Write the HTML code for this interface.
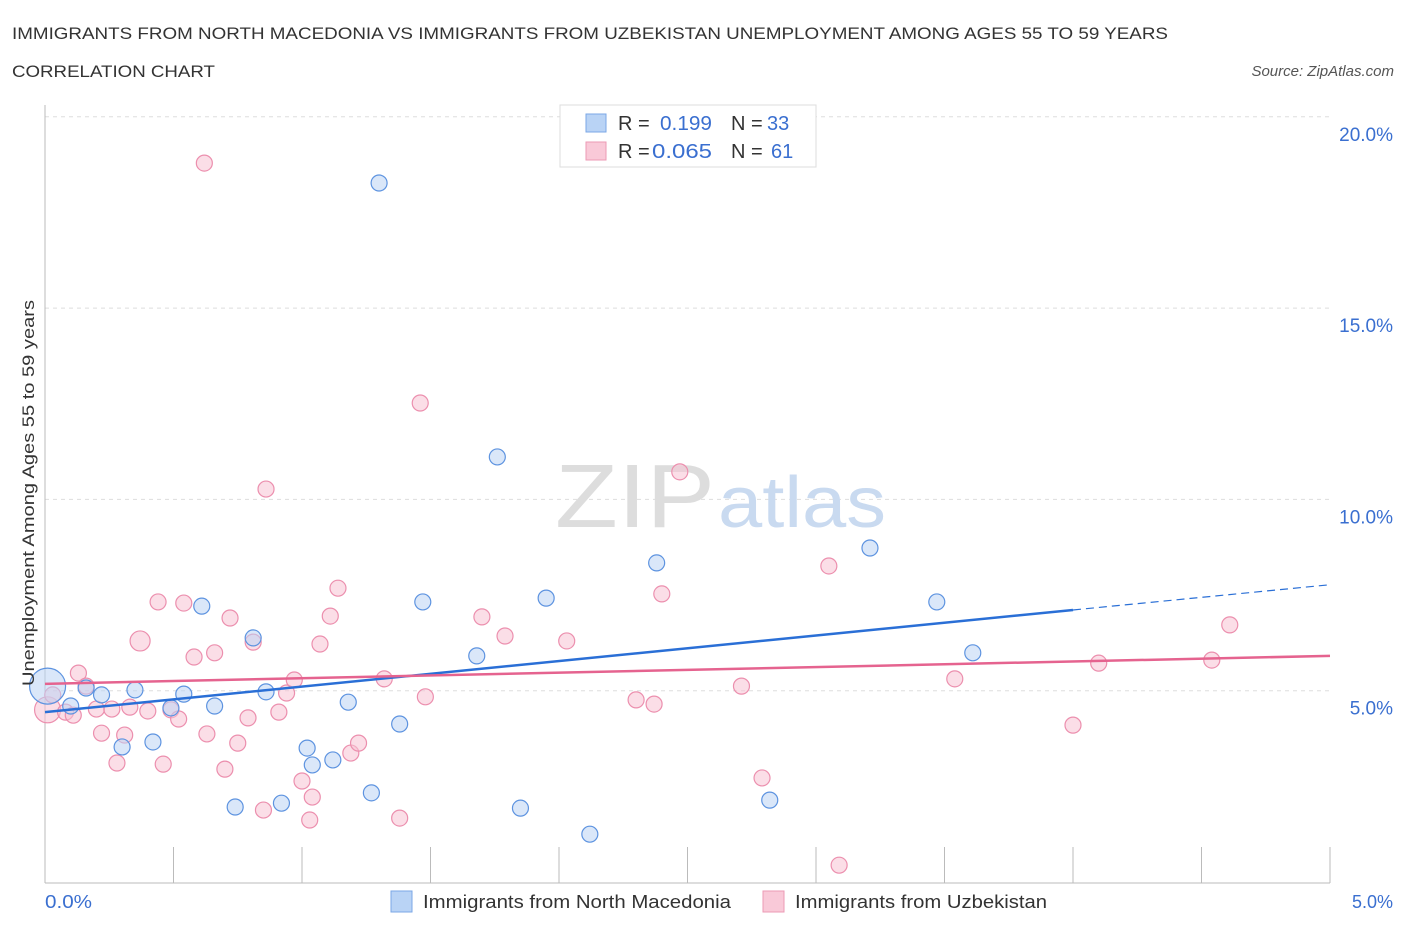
<!DOCTYPE html>
<html><head><meta charset="utf-8"><style>
body{margin:0;background:#fff;font-family:"Liberation Sans",sans-serif;}
svg text{font-family:"Liberation Sans",sans-serif;}
</style></head><body>
<svg id="chart" width="1406" height="930">
<text x="12" y="39" font-size="17" fill="#333" textLength="1156" lengthAdjust="spacingAndGlyphs">IMMIGRANTS FROM NORTH MACEDONIA VS IMMIGRANTS FROM UZBEKISTAN UNEMPLOYMENT AMONG AGES 55 TO 59 YEARS</text>
<text x="12" y="77" font-size="17" fill="#333" textLength="203" lengthAdjust="spacingAndGlyphs">CORRELATION CHART</text>
<text x="1394" y="76" font-size="15" fill="#555" font-style="italic" text-anchor="end">Source: ZipAtlas.com</text>
<g id="grid"></g>
<text x="555" y="527" font-size="90" fill="#ddd" textLength="160" lengthAdjust="spacingAndGlyphs" font-family="Liberation Serif">ZIP</text>
<text x="718" y="527" font-size="72" fill="#c9daf0" textLength="168" lengthAdjust="spacingAndGlyphs">atlas</text>
<g id="marks"></g>
<text transform="translate(34,493) rotate(-90)" font-size="17" fill="#333" text-anchor="middle" textLength="386" lengthAdjust="spacingAndGlyphs">Unemployment Among Ages 55 to 59 years</text>
<text x="45" y="908" font-size="18" fill="#3a6fd0" textLength="47" lengthAdjust="spacingAndGlyphs">0.0%</text>
<text x="1393" y="908" font-size="18" fill="#3a6fd0" text-anchor="end">5.0%</text>
<g>
<rect x="560" y="105" width="256" height="62" fill="#fff" stroke="#ddd"/>
<rect x="586" y="114" width="20" height="18" fill="#b9d3f5" stroke="#7ba7e6"/>
<text x="618" y="130" font-size="20" fill="#333">R = </text><text x="660" y="130" font-size="20" fill="#3a6fd0" textLength="52" lengthAdjust="spacingAndGlyphs">0.199</text>
<text x="731" y="130" font-size="20" fill="#333">N = </text><text x="767" y="130" font-size="20" fill="#3a6fd0">33</text>
<rect x="586" y="142" width="20" height="18" fill="#f9c9d8" stroke="#ec9ab5"/>
<text x="618" y="158" font-size="20" fill="#333">R = </text><text x="652" y="158" font-size="20" fill="#3a6fd0" textLength="60" lengthAdjust="spacingAndGlyphs">0.065</text>
<text x="731" y="158" font-size="20" fill="#333">N = </text><text x="771" y="158" font-size="20" fill="#3a6fd0">61</text>
</g>
<g><rect x="391" y="891" width="21" height="21" fill="#b9d3f5" stroke="#7ba7e6"/><text x="423" y="908" font-size="18" fill="#333" textLength="308" lengthAdjust="spacingAndGlyphs">Immigrants from North Macedonia</text></g>
<g><rect x="763" y="891" width="21" height="21" fill="#f9c9d8" stroke="#ec9ab5"/><text x="795" y="908" font-size="18" fill="#333" textLength="252" lengthAdjust="spacingAndGlyphs">Immigrants from Uzbekistan</text></g>
</svg>
<script>
const yTicks=[5,10,15,20];
const yTickLabels=["5.0%","10.0%","15.0%","20.0%"];
const xTicks=[0,0.5,1,1.5,2,2.5,3,3.5,4,4.5,5];
const blueX=[0.01,0.10,0.16,0.22,0.30,0.35,0.42,0.49,0.54,0.61,0.66,0.74,0.81,0.86,0.92,1.02,1.04,1.12,1.18,1.27,1.30,1.38,1.47,1.68,1.76,1.85,1.95,2.12,2.38,2.82,3.21,3.47,3.61];
const blueY=[5.12,4.60,5.07,4.89,3.53,5.02,3.66,4.55,4.91,7.21,4.60,1.96,6.38,4.97,2.06,3.50,3.06,3.19,4.70,2.33,18.27,4.13,7.32,5.91,11.11,1.93,7.42,1.25,8.34,2.14,8.73,7.32,5.99];
const pinkX=[0.01,0.03,0.08,0.11,0.13,0.16,0.20,0.22,0.26,0.28,0.31,0.33,0.37,0.40,0.44,0.46,0.49,0.52,0.54,0.58,0.62,0.63,0.66,0.70,0.72,0.75,0.79,0.81,0.85,0.86,0.91,0.94,0.97,1.00,1.03,1.04,1.07,1.11,1.14,1.19,1.22,1.32,1.38,1.46,1.48,1.70,1.79,2.03,2.30,2.37,2.40,2.47,2.71,2.79,3.05,3.09,3.54,4.00,4.10,4.54,4.61];
const pinkY=[4.5,4.89,4.44,4.36,5.46,5.12,4.52,3.89,4.52,3.11,3.84,4.57,6.30,4.47,7.32,3.08,4.50,4.26,7.29,5.88,18.79,3.87,5.99,2.95,6.90,3.63,4.29,6.27,1.88,10.27,4.44,4.94,5.28,2.64,1.62,2.22,6.22,6.95,7.68,3.37,3.63,5.31,1.67,12.52,4.84,6.93,6.43,6.30,4.76,4.65,7.53,10.72,5.12,2.72,8.26,0.44,5.31,4.10,5.72,5.80,6.72];
const blueTrend=[[0,4.44],[4,7.11],[5,7.77]];
const pinkTrend=[[0,5.18],[5,5.91]];
const X=v=>45+v*257, Y=v=>882-v*38.26;
const NS="http://www.w3.org/2000/svg";
function mk(p,t,a){const e=document.createElementNS(NS,t);for(const k in a)e.setAttribute(k,a[k]);p.appendChild(e);return e;}
const g=document.getElementById('grid'), m=document.getElementById('marks');
yTicks.forEach((t,i)=>{
 const l=mk(g,'line',{x1:45,x2:1330,y1:Y(t),y2:Y(t),stroke:'#ddd','stroke-dasharray':'4,4'});
 
 
 const tx=mk(g,'text',{x:1393,y:Y(t)+24,'font-size':19,fill:'#3a6fd0','text-anchor':'end'});
 tx.textContent=yTickLabels[i];
 
 
});
const ax=mk(g,'line',{x1:45,x2:45,y1:105,y2:883,stroke:'#bbb'});


const bx=mk(g,'line',{x1:45,x2:1330,y1:883,y2:883,stroke:'#bbb'});


xTicks.forEach(t=>{const l=mk(g,'line',{x1:X(t),x2:X(t),y1:847,y2:883,stroke:'#bbb'});
 
 });
function pts(xs,ys,fill,stroke,name){xs.forEach((x,i)=>{
 const r=(i===0)?(name==='blue-point'?18:13):(name==='pink-point'&&i===12?10:8);
 const c=mk(m,'circle',{cx:X(x),cy:Y(ys[i]),r:r,fill:fill,'fill-opacity':0.55,stroke:stroke,'stroke-width':1.2});
 
 });}
pts(pinkX,pinkY,'#f7c3d3','#ec8fae','pink-point');
pts(blueX,blueY,'#bcd4f4','#5d93e0','blue-point');
const b1=mk(m,'line',{x1:X(blueTrend[0][0]),y1:Y(blueTrend[0][1]),x2:X(blueTrend[1][0]),y2:Y(blueTrend[1][1]),stroke:'#2a6fd6','stroke-width':2.5});


const b2=mk(m,'line',{x1:X(blueTrend[1][0]),y1:Y(blueTrend[1][1]),x2:X(blueTrend[2][0]),y2:Y(blueTrend[2][1]),stroke:'#2a6fd6','stroke-width':1.2,'stroke-dasharray':'8,5'});


const p1=mk(m,'line',{x1:X(pinkTrend[0][0]),y1:Y(pinkTrend[0][1]),x2:X(pinkTrend[1][0]),y2:Y(pinkTrend[1][1]),stroke:'#e5638f','stroke-width':2.5});


</script>
</body></html>
